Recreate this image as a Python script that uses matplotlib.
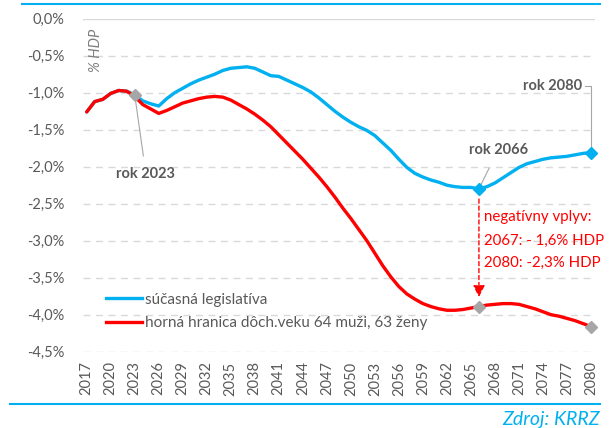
import matplotlib.pyplot as plt
import numpy as np
from matplotlib.lines import Line2D

plt.rcParams["font.family"] = ["Lato", "DejaVu Sans"]

years = np.arange(2017, 2081)

# horná hranica dôchodkového veku 64 muži, 63 ženy (% HDP)
upper_limit = [
    -1.26, -1.12, -1.09, -1.01, -0.97, -0.98, -1.05, -1.16, -1.22, -1.28,
    -1.24, -1.19, -1.14, -1.11, -1.08, -1.06, -1.05, -1.06, -1.10, -1.16,
    -1.22, -1.29, -1.37, -1.46, -1.57, -1.68, -1.79, -1.90, -2.02, -2.14,
    -2.27, -2.41, -2.56, -2.70, -2.85, -3.00, -3.17, -3.34, -3.49, -3.62,
    -3.72, -3.79, -3.85, -3.89, -3.92, -3.94, -3.94, -3.93, -3.91, -3.89,
    -3.87, -3.86, -3.85, -3.85, -3.86, -3.89, -3.92, -3.96, -4.00, -4.02,
    -4.05, -4.08, -4.12, -4.16,
]

# súčasná legislatíva (% HDP), same as above before 2023
current_law = [
    -1.26, -1.12, -1.09, -1.01, -0.97, -0.98, -1.03, -1.11, -1.15, -1.18,
    -1.08, -1.00, -0.94, -0.88, -0.83, -0.79, -0.75, -0.70, -0.67, -0.66,
    -0.65, -0.67, -0.72, -0.77, -0.78, -0.83, -0.88, -0.93, -0.99, -1.07,
    -1.16, -1.25, -1.33, -1.40, -1.46, -1.51, -1.58, -1.68, -1.78, -1.90,
    -2.01, -2.09, -2.14, -2.18, -2.21, -2.25, -2.27, -2.28, -2.28, -2.30,
    -2.27, -2.22, -2.15, -2.08, -2.01, -1.96, -1.93, -1.90, -1.88, -1.87,
    -1.86, -1.84, -1.82, -1.81,
]

yticks = [0.0, -0.5, -1.0, -1.5, -2.0, -2.5, -3.0, -3.5, -4.0, -4.5]
ytick_labels = ["0,0%", "-0,5%", "-1,0%", "-1,5%", "-2,0%", "-2,5%",
                "-3,0%", "-3,5%", "-4,0%", "-4,5%"]
xticks = list(range(2017, 2081, 3))

BLUE = "#00B0F0"
RED = "#FF0000"
GRAY = "#595959"
MARK = "#A6A6A6"

fig = plt.figure(figsize=(6.11, 4.28), dpi=100)
ax = fig.add_axes([82.7 / 611, 1 - 351.7 / 428, (595 - 82.7) / 611, (351.7 - 18.7) / 428])

ax.set_xlim(2016.5, 2080.5)
ax.set_ylim(-4.5, 0)

for v in yticks:
    if v == 0:
        ax.axhline(v, color="#D9D9D9", lw=1.0, zorder=0)
    else:
        ax.axhline(v, color="#D9D9D9", lw=1.0, ls=(0, (5, 4)), zorder=0)

ax.plot(years, current_law, color=BLUE, lw=2.4, solid_capstyle="round", clip_on=False, zorder=3)
ax.plot(years, upper_limit, color=RED, lw=2.4, solid_capstyle="round", clip_on=False, zorder=4)

i23 = list(years).index(2023)
i66 = list(years).index(2066)
i80 = list(years).index(2080)
ax.plot(2023, current_law[i23], marker="D", ms=6, color=MARK, zorder=6)
ax.plot([2066, 2080], [current_law[i66], current_law[i80]], "D", ms=6, color=BLUE, zorder=6, clip_on=False)
ax.plot([2066, 2080], [upper_limit[i66], upper_limit[i80]], "D", ms=6, color=MARK, zorder=6, clip_on=False)

for s in ax.spines.values():
    s.set_visible(False)
ax.set_yticks(yticks)
ax.set_yticklabels(ytick_labels, fontsize=10.5, color=GRAY)
ax.set_xticks(xticks)
ax.set_xticklabels([str(x) for x in xticks], rotation=90, fontsize=10.5, color=GRAY)
ax.tick_params(axis="y", length=0, pad=13)
ax.tick_params(axis="x", length=0, pad=7)

ax.text(2018.2, -0.43, "% HDP", rotation=90, style="italic", fontsize=10.5,
        color="#7F7F7F", ha="center", va="center")

# annotations
ax.annotate("rok 2023", xy=(2023, current_law[i23]), xytext=(2024.4, -2.1),
            fontsize=10.5, fontweight="bold", color=GRAY, ha="center", va="center",
            arrowprops=dict(arrowstyle="-", color="#A6A6A6", lw=0.8, shrinkA=6, shrinkB=3))
ax.annotate("rok 2066", xy=(2066, current_law[i66]), xytext=(2068.4, -1.77),
            fontsize=10.5, fontweight="bold", color=GRAY, ha="center", va="center",
            arrowprops=dict(arrowstyle="-", color="#A6A6A6", lw=0.8, shrinkA=7, shrinkB=3))
ax.text(2075.2, -0.91, "rok 2080", fontsize=10.5, fontweight="bold", color=GRAY,
        ha="center", va="center")
ax.plot([2079.3, 2080, 2080], [-0.91, -0.91, current_law[i80] + 0.06],
        color="#A6A6A6", lw=0.8, clip_on=False)

ax.annotate("", xy=(2066, -3.8), xytext=(2066, -2.4),
            arrowprops=dict(arrowstyle="-|>,head_length=0.7,head_width=0.35",
                            color=RED, lw=1.0, ls=(0, (3, 2))))
ax.text(2066.6, -2.68, "negatívny vplyv:", fontsize=10.8, color=RED, va="center")
ax.text(2066.6, -3.0, "2067: - 1,6% HDP", fontsize=10.8, color=RED, va="center")
ax.text(2066.6, -3.3, "2080: -2,3% HDP", fontsize=10.8, color=RED, va="center")

handles = [Line2D([], [], color=BLUE, lw=2.4), Line2D([], [], color=RED, lw=2.4)]
leg = ax.legend(handles, ["súčasná legislatíva", "horná hranica dôch.veku 64 muži, 63 ženy"],
                loc="upper left", bbox_to_anchor=(0.03, 0.2), frameon=False,
                fontsize=11, handlelength=2.4, handletextpad=0.2, labelspacing=0.6,
                borderpad=0)
for t in leg.get_texts():
    t.set_color(GRAY)

# frame lines and source
fig.add_artist(Line2D([22 / 611, 600 / 611], [1 - 4 / 428, 1 - 4 / 428], color=BLUE, lw=1.5))
fig.add_artist(Line2D([10 / 611, 600 / 611], [1 - 404 / 428, 1 - 404 / 428], color=BLUE, lw=1.5))
fig.text(600 / 611, 1 - 419 / 428, "Zdroj: KRRZ", style="italic", fontsize=14,
         color=BLUE, ha="right", va="center")

fig.savefig("out.png", dpi=100)
